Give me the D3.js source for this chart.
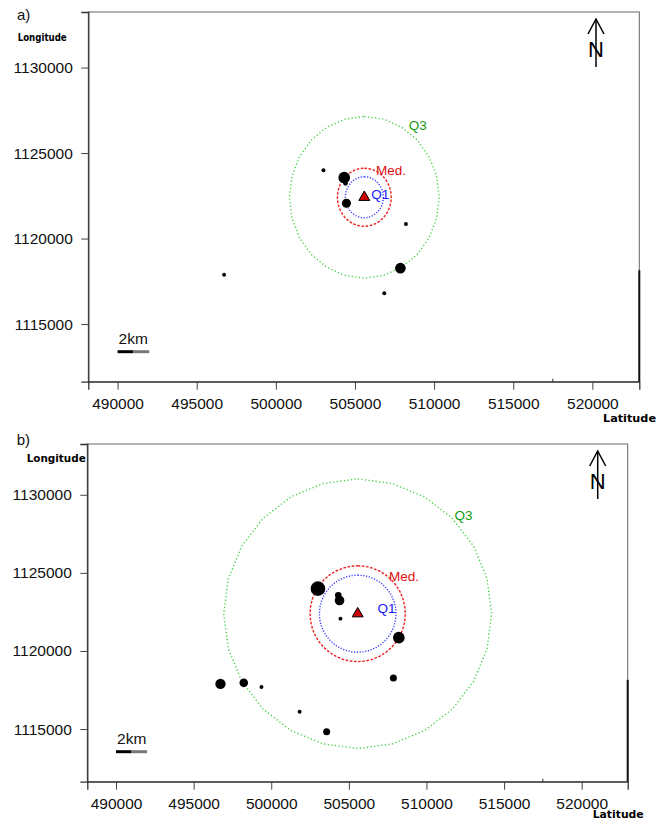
<!DOCTYPE html>
<html><head><meta charset="utf-8">
<script src="https://cdn.jsdelivr.net/npm/d3@7"></script>
<style>html,body{margin:0;padding:0;background:#fff}</style>
</head><body>
<svg id="chart" width="667" height="820"></svg>
<script>
// Map extent (easting / northing, metres)
const xDomain = [488150, 522965];
const yDomain = [1111630, 1133250];
const xTicks = [490000, 495000, 500000, 505000, 510000, 515000, 520000];
const yTicks = [1115000, 1120000, 1125000, 1130000];

// Station coordinates
const stationX = [503010, 504320, 504400, 504460, 508220, 507870, 496730, 506850, 498230, 499370, 501830, 503570];
const stationY = [1123990, 1123570, 1123230, 1122070, 1120850, 1118270, 1117890, 1116800, 1117960, 1117690, 1116110, 1114830];
// Per-station weight for each period (null = station not present)
const weightA = [2.7, 8, 3.2, 6.2, 2.7, 7.3, 2.7, 2.7, null, null, null, null];
const weightB = [10, 4.5, 6.6, 2.7, 8, 4.8, 7.1, null, 5.9, 2.7, 2.7, 4.8];

// Weighted centre and quartile distances around it
const centreA = [505590, 1122415];
const centreB = [505570, 1122385];
const ringNames = ["Q1", "Med.", "Q3"];
const ringRadiusA = [1200, 1700, 4730];
const ringRadiusB = [2470, 3070, 8630];
const ringLabelXA = [506600, 507280, 508960];
const ringLabelYA = [1122610, 1123980, 1126610];
const ringLabelXB = [507420, 508560, 512390];
const ringLabelYB = [1122720, 1124770, 1128720];

// Scale bar (2 km) and frame details
const scaleBarX = [490000, 491000, 492000];
const scaleBarText = "2km";
const frameBreakY = 1118150;
const frameTickX = 517500;

const ringStyle = [
  {stroke: "#3a3aff", dash: "1.2 1.6", text: "#1818ff", vertices: 40},
  {stroke: "#ee2020", dash: "2.6 1.6", text: "#dd1010", vertices: 40},
  {stroke: "#3fcf3f", dash: "1.2 2.4", text: "#139913", vertices: 24}
];

const panels = [
  {tag: "a)", box: {l: 88.3, r: 639.3, t: 12, b: 381.7},
   weight: weightA, centre: centreA, radius: ringRadiusA, lx: ringLabelXA, ly: ringLabelYA,
   tagPos: [17, 20], lonPos: [17.7, 41, 49], latPos: [603, 422, 53], northX: 596},
  {tag: "b)", box: {l: 87.3, r: 627.7, t: 444, b: 781.7},
   weight: weightB, centre: centreB, radius: ringRadiusB, lx: ringLabelXB, ly: ringLabelYB,
   tagPos: [16.7, 445], lonPos: [26.7, 462, 59], latPos: [592.7, 817.5, 51], northX: 597.7}
];

const svg = d3.select("#chart");
const tickFont = "'Liberation Sans', Arial, sans-serif";
const rScale = d3.scaleLinear().domain([0, 10]).range([0, 7.3]);

panels.forEach(p => {
  const g = svg.append("g");
  const x = d3.scaleLinear().domain(xDomain).range([p.box.l, p.box.r]);
  const y = d3.scaleLinear().domain(yDomain).range([p.box.b, p.box.t]);

  // frame
  g.append("rect")
    .attr("x", p.box.l).attr("y", p.box.t)
    .attr("width", p.box.r - p.box.l).attr("height", p.box.b - p.box.t)
    .attr("fill", "none").attr("stroke", "#666").attr("stroke-width", 1);
  g.append("line")
    .attr("x1", p.box.r).attr("x2", p.box.r)
    .attr("y1", y(frameBreakY)).attr("y2", p.box.b)
    .attr("stroke", "#111").attr("stroke-width", 2);
  g.append("line")
    .attr("x1", x(frameTickX)).attr("x2", x(frameTickX))
    .attr("y1", p.box.b).attr("y2", p.box.b - 3)
    .attr("stroke", "#333").attr("stroke-width", 1);

  // axes
  const xa = g.append("g").attr("transform", `translate(0,${p.box.b})`)
    .call(d3.axisBottom(x).tickValues(xTicks).tickFormat(d3.format("d")).tickSize(8).tickPadding(8));
  const ya = g.append("g").attr("transform", `translate(${p.box.l},0)`)
    .call(d3.axisLeft(y).tickValues(yTicks).tickFormat(d3.format("d")).tickSize(7).tickPadding(8.5));
  [xa, ya].forEach(a => {
    a.select(".domain").attr("stroke", "#333").attr("stroke-width", 1.3);
    a.selectAll(".tick line").attr("stroke", "#444").attr("stroke-width", 1);
    a.selectAll(".tick text").attr("fill", "#111")
      .style("font-family", tickFont).style("font-size", "15.5px");
  });

  // quartile rings around the centre
  const [cx, cy] = p.centre;
  p.radius.forEach((rad, i) => {
    const st = ringStyle[i];
    const pts = d3.range(st.vertices + 1).map(k => {
      const a = 2 * Math.PI * k / st.vertices;
      return [cx + rad * Math.sin(a), cy + rad * Math.cos(a)];
    });
    g.append("path")
      .attr("d", d3.line().x(d => x(d[0])).y(d => y(d[1]))(pts))
      .attr("fill", "none").attr("stroke", st.stroke)
      .attr("stroke-width", 1.4).attr("stroke-dasharray", st.dash);
    g.append("text")
      .attr("x", x(p.lx[i])).attr("y", y(p.ly[i])).attr("dy", "0.36em")
      .attr("text-anchor", "middle").attr("fill", st.text)
      .style("font-family", tickFont).style("font-size", "13.5px")
      .text(ringNames[i]);
  });

  // stations
  const stations = stationX.map((sx, i) => ({x: sx, y: stationY[i], w: p.weight[i]}))
    .filter(d => d.w !== null);
  g.selectAll("circle.st").data(stations).join("circle")
    .attr("class", "st")
    .attr("cx", d => x(d.x)).attr("cy", d => y(d.y)).attr("r", d => rScale(d.w))
    .attr("fill", "#000");

  // centre marker
  g.append("path")
    .attr("d", d3.symbol(d3.symbolTriangle, 52)())
    .attr("transform", `translate(${x(cx)},${y(cy)})`)
    .attr("fill", "#cc0000").attr("stroke", "#000").attr("stroke-width", 1);

  // scale bar
  const sbY = p.box.b - 30;
  g.append("line")
    .attr("x1", x(scaleBarX[0])).attr("x2", x(scaleBarX[1]))
    .attr("y1", sbY).attr("y2", sbY)
    .attr("stroke", "#000").attr("stroke-width", 3);
  g.append("line")
    .attr("x1", x(scaleBarX[1])).attr("x2", x(scaleBarX[2]))
    .attr("y1", sbY).attr("y2", sbY)
    .attr("stroke", "#777").attr("stroke-width", 3);
  g.append("text")
    .attr("x", x(scaleBarX[0]) + 1).attr("y", sbY - 8)
    .attr("fill", "#111").style("font-family", tickFont).style("font-size", "15.5px")
    .text(scaleBarText);

  // north arrow
  const nx = p.northX, nt = p.box.t;
  g.append("line").attr("x1", nx).attr("x2", nx).attr("y1", nt + 7).attr("y2", nt + 55)
    .attr("stroke", "#000").attr("stroke-width", 1.5);
  g.append("path")
    .attr("d", `M${nx - 8},${nt + 22}L${nx},${nt + 7}L${nx + 8},${nt + 22}`)
    .attr("fill", "none").attr("stroke", "#000").attr("stroke-width", 1.5);
  g.append("text").attr("x", nx).attr("y", nt + 44.5).attr("text-anchor", "middle")
    .attr("fill", "#000").style("font-family", tickFont).style("font-size", "22px")
    .text("N");

  // panel tag and axis titles
  g.append("text").attr("x", p.tagPos[0]).attr("y", p.tagPos[1])
    .attr("fill", "#111").style("font-family", tickFont).style("font-size", "15px")
    .text(p.tag);
  g.append("text").attr("x", p.lonPos[0]).attr("y", p.lonPos[1])
    .attr("textLength", p.lonPos[2]).attr("lengthAdjust", "spacingAndGlyphs")
    .attr("fill", "#000").style("font-family", "'DejaVu Sans', sans-serif")
    .style("font-weight", "bold").style("font-size", "10px")
    .text("Longitude");
  g.append("text").attr("x", p.latPos[0]).attr("y", p.latPos[1])
    .attr("textLength", p.latPos[2]).attr("lengthAdjust", "spacingAndGlyphs")
    .attr("fill", "#000").style("font-family", "'DejaVu Sans', sans-serif")
    .style("font-weight", "bold").style("font-size", "10px")
    .text("Latitude");
});
</script>
</body></html>
